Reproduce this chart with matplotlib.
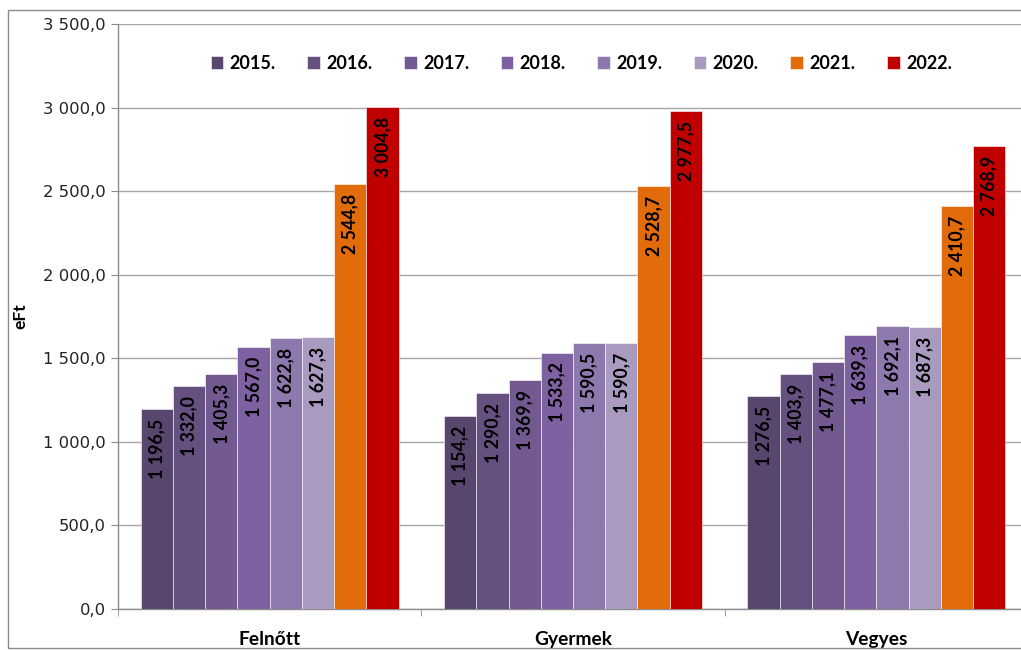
import numpy as np
import matplotlib
matplotlib.use('Agg')
import matplotlib.pyplot as plt
from matplotlib.patches import Rectangle

categories = ['Felnőtt', 'Gyermek', 'Vegyes']
years = ['2015.', '2016.', '2017.', '2018.', '2019.', '2020.', '2021.', '2022.']
values = {
    '2015.': [1196.5, 1154.2, 1276.5],
    '2016.': [1332.0, 1290.2, 1403.9],
    '2017.': [1405.3, 1369.9, 1477.1],
    '2018.': [1567.0, 1533.2, 1639.3],
    '2019.': [1622.8, 1590.5, 1692.1],
    '2020.': [1627.3, 1590.7, 1687.3],
    '2021.': [2544.8, 2528.7, 2410.7],
    '2022.': [3004.8, 2977.5, 2768.9],
}
colors = ['#58466f', '#66507f', '#725a90', '#7e61a0', '#8e79ae', '#a99ac0', '#e36c0a', '#c00000']
yticks = [0, 500, 1000, 1500, 2000, 2500, 3000, 3500]


def hu(v):
    s = f'{v:,.1f}'
    return s.replace(',', ' ').replace('.', ',')


lab_font = 'Lato'
fig = plt.figure(figsize=(10.21, 6.5), dpi=100)
ax = fig.add_axes([118 / 1021, 1 - 609 / 650, 910 / 1021, (609 - 24) / 650])

# frame around the whole chart
fig.patches.append(Rectangle((8 / 1021, 2 / 650), 1.2, 1 - 12 / 650, transform=fig.transFigure,
                             fill=False, edgecolor='#8c8c8c', linewidth=1.0, zorder=0))

n = len(years)
w = 0.85 / n
x = np.arange(len(categories))
for i, (yr, c) in enumerate(zip(years, colors)):
    pos = x - 0.425 + w * (i + 0.5)
    bars = ax.bar(pos, values[yr], width=w, color=c, edgecolor='#ffffff', linewidth=0.4,
                  label=yr, zorder=3)
    for b, v in zip(bars, values[yr]):
        ax.annotate(hu(v), (b.get_x() + b.get_width() / 2, v), xytext=(0, -7),
                    textcoords='offset points', rotation=90, ha='center', va='top',
                    fontsize=12.8, fontweight='bold', family=lab_font, color='black', zorder=4)

ax.set_xlim(-0.5, len(categories) - 0.5)
ax.set_ylim(0, 3500)
ax.set_yticks(yticks)
ax.set_yticklabels([hu(t) for t in yticks], fontsize=11.8, family='DejaVu Sans', color='#222222')
ax.set_xticks(x)
ax.set_xticklabels(categories, fontsize=13.8, fontweight='bold', family=lab_font)
ax.set_xticks(np.arange(len(categories) + 1) - 0.5, minor=True)
ax.tick_params(axis='x', which='major', length=0, pad=16)
ax.tick_params(axis='x', which='minor', length=5, color='#8c8c8c', direction='out')
ax.tick_params(axis='y', length=5, color='#8c8c8c', direction='out', pad=4)
ax.grid(axis='y', color='#a6a6a6', linewidth=1.0, zorder=0)
ax.set_axisbelow(True)
for s in ['top', 'right']:
    ax.spines[s].set_visible(False)
for s in ['left', 'bottom']:
    ax.spines[s].set_color('#8c8c8c')
    ax.spines[s].set_linewidth(1.0)

ax.set_ylabel('eFt', fontsize=12.5, fontweight='bold', family=lab_font)
ax.yaxis.set_label_coords(-0.099, 0.5)

leg = ax.legend(loc='upper center', bbox_to_anchor=(0.509, 0.975), ncol=n, frameon=False,
                prop={'family': lab_font, 'weight': 'bold', 'size': 13},
                handlelength=0.7, handleheight=0.7, handletextpad=0.35, columnspacing=1.75)

fig.savefig('out.png', dpi=100)
